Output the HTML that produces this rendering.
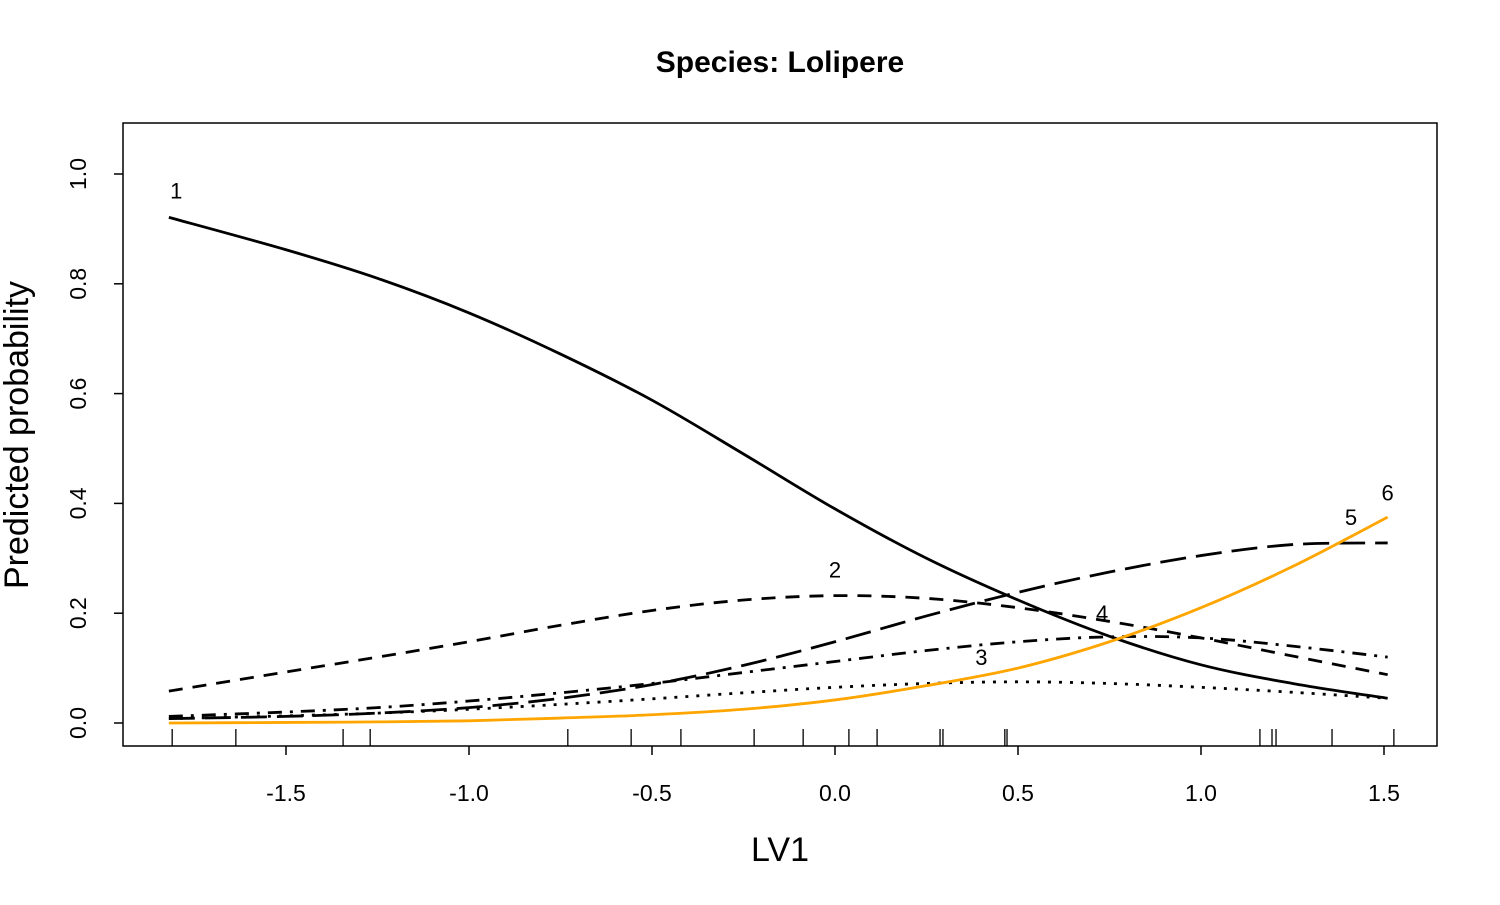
<!DOCTYPE html>
<html><head><meta charset="utf-8"><style>
body{margin:0;background:#fff}
svg text{font-family:"Liberation Sans",Arial,sans-serif}
</style></head><body>
<svg id="chart" width="1500" height="900" xmlns="http://www.w3.org/2000/svg">
<rect width="1500" height="900" fill="#fff"/>
<text x="780" y="72" text-anchor="middle" font-size="30" font-weight="bold">Species: Lolipere</text>
<rect x="123" y="123" width="1314" height="623" fill="none" stroke="#000" stroke-width="1.5"/>
<text x="780" y="861" text-anchor="middle" font-size="34">LV1</text>
<text transform="translate(28,435) rotate(-90)" text-anchor="middle" font-size="34">Predicted probability</text>
<g id="axes"></g><g id="series"></g><g id="rug"></g><g id="labels"></g>
</svg>
<script>
const xGrid=[-1.82,-1.5,-1.25,-1,-0.75,-0.5,-0.25,0,0.25,0.5,0.75,1.0,1.25,1.51];
const s1=[0.921,0.862,0.81,0.747,0.672,0.588,0.49,0.39,0.30,0.224,0.158,0.106,0.072,0.045];
const s2=[0.058,0.093,0.12,0.148,0.178,0.205,0.224,0.232,0.227,0.21,0.185,0.155,0.122,0.088];
const s3=[0.008,0.013,0.018,0.025,0.034,0.044,0.055,0.065,0.072,0.075,0.072,0.065,0.056,0.045];
const s4=[0.012,0.02,0.028,0.04,0.055,0.072,0.092,0.112,0.132,0.148,0.157,0.155,0.14,0.12];
const s5=[0.008,0.012,0.018,0.028,0.045,0.07,0.105,0.148,0.195,0.238,0.275,0.305,0.325,0.328];
const s6=[0.0,0.001,0.002,0.004,0.009,0.015,0.025,0.042,0.068,0.1,0.148,0.21,0.285,0.375];
const xTicks=[-1.5,-1.0,-0.5,0.0,0.5,1.0,1.5];
const xTickLabels=["-1.5","-1.0","-0.5","0.0","0.5","1.0","1.5"];
const yTicks=[0,0.2,0.4,0.6,0.8,1.0];
const yTickLabels=["0.0","0.2","0.4","0.6","0.8","1.0"];
const rugVals=[-1.811,-1.637,-1.344,-1.270,-0.730,-0.557,-0.421,-0.221,-0.087,0.038,0.115,0.287,0.295,0.464,0.470,1.161,1.194,1.205,1.358,1.527];
const labelNames=["1","2","3","4","5","6"];
const labelX=[-1.8,0.0,0.4,0.73,1.41,1.51];
const labelY=[0.97,0.28,0.12,0.2,0.375,0.42];

const NS="http://www.w3.org/2000/svg";
const X=v=>835+v*366, Y=v=>723-v*549;
function mk(tag,attrs,parent){const e=document.createElementNS(NS,tag);for(const k in attrs)e.setAttribute(k,attrs[k]);parent.appendChild(e);return e;}
const axes=document.getElementById('axes');
xTicks.forEach((t,i)=>{
  const l=mk('line',{x1:X(t),x2:X(t),y1:746,y2:755,stroke:'#000','stroke-width':1.5},axes);
  
  
  const tx=mk('text',{x:X(t),y:801,'text-anchor':'middle','font-size':23},axes);tx.textContent=xTickLabels[i];
  
  
});
yTicks.forEach((t,i)=>{
  const l=mk('line',{x1:114,x2:123,y1:Y(t),y2:Y(t),stroke:'#000','stroke-width':1.5},axes);
  
  
  const tx=mk('text',{transform:`translate(86,${Y(t)}) rotate(-90)`,'text-anchor':'middle','font-size':23},axes);tx.textContent=yTickLabels[i];
  
  
});
function pathD(xs,ys){
  const p=xs.map((x,i)=>[X(x),Y(ys[i])]);let d=`M${p[0][0]},${p[0][1]}`;
  for(let i=0;i<p.length-1;i++){const p0=p[Math.max(0,i-1)],p1=p[i],p2=p[i+1],p3=p[Math.min(p.length-1,i+2)];
    d+=` C${p1[0]+(p2[0]-p0[0])/6},${p1[1]+(p2[1]-p0[1])/6} ${p2[0]-(p3[0]-p1[0])/6},${p2[1]-(p3[1]-p1[1])/6} ${p2[0]},${p2[1]}`;}
  return d;}
const ser=document.getElementById('series');
const all=[s1,s2,s3,s4,s5,s6];
const dashes=["","14 10","3 8","14 8 3 8","26 10",""];
const cols=["#000","#000","#000","#000","#000","#FFA500"];
all.forEach((s,i)=>{
  const p=mk('path',{d:pathD(xGrid,s),fill:'none',stroke:cols[i],'stroke-width':2.8,'stroke-dasharray':dashes[i]},ser);
  
  
});
const rug=document.getElementById('rug');
rugVals.forEach(v=>{
  const l=mk('line',{x1:X(v),x2:X(v),y1:729,y2:746,stroke:'#000','stroke-width':1.3},rug);
  
  
});
const lab=document.getElementById('labels');
labelNames.forEach((n,i)=>{
  const t=mk('text',{x:X(labelX[i]),y:Y(labelY[i])+8,'text-anchor':'middle','font-size':22},lab);t.textContent=n;
  
  
});
</script>
</body></html>
